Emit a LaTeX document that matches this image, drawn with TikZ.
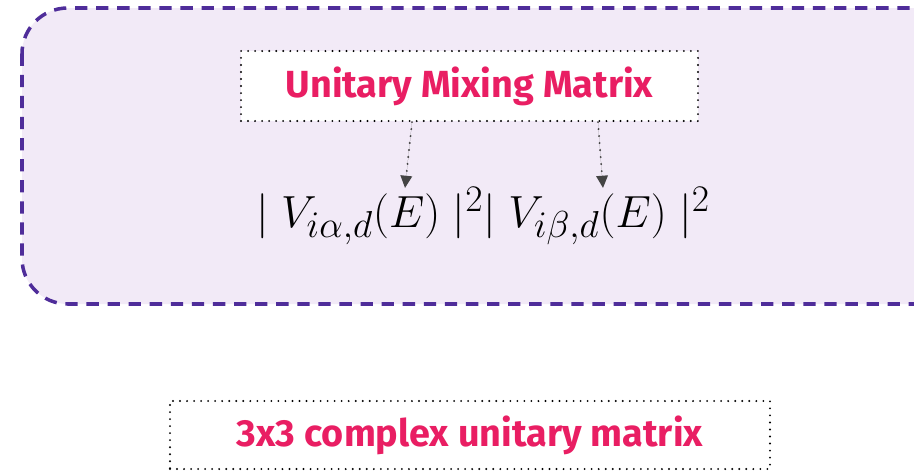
\documentclass[tikz,border=0pt]{standalone}
\usepackage{fontspec}
\setsansfont{Fira Sans}
\usepackage{amsmath}
\usetikzlibrary{arrows.meta,positioning,calc}
\definecolor{mixpink}{HTML}{E91E63}
\definecolor{mixpurple}{HTML}{4F2D9A}
\definecolor{mixfill}{HTML}{F2EAF7}
\definecolor{arrowgray}{HTML}{444444}
\tikzset{
  groupbox/.style={draw=mixpurple,fill=mixfill,line width=2pt,
    dash pattern=on 7pt off 5pt,rounded corners=26pt},
  labelbox/.style={draw=black,line width=1.2pt,line cap=round,
    dash pattern=on 0pt off 4pt,fill=white,
    font=\sffamily\bfseries\fontsize{21.5}{26}\selectfont,text=mixpink,align=center},
  flowarrow/.style={-{Triangle[length=7pt,width=6.5pt]},line width=1.2pt,line cap=round,
    dash pattern=on 0pt off 4pt,draw=arrowgray,fill=arrowgray}
}
\begin{document}
\begin{tikzpicture}[x=0.02cm,y=-0.02cm]
\useasboundingbox (0,0) rectangle (914,471);
\draw[groupbox] (22,8) rectangle (960,304);

\node[labelbox, minimum width=457*0.02cm, minimum height=70*0.02cm] (mixing) at (469.5,86) {Unitary Mixing Matrix};
\node[font=\fontsize{24.88}{30}\selectfont, scale=1.03, transform shape] (formula) at (483,216)
  {$\mid V_{i\alpha,d}(E)\mid^2\mid V_{i\beta,d}(E)\mid^2$};
\node[labelbox, minimum width=600*0.02cm, minimum height=68*0.02cm] (unitary) at (470,435) {3x3 complex unitary matrix};

\coordinate (tipa) at (405,188);
\coordinate (tipb) at (603,188);
\draw[flowarrow] (mixing.south -| 412,0) -- (tipa);
\draw[flowarrow] (mixing.south -| 598,0) -- (tipb);
\end{tikzpicture}
\end{document}
